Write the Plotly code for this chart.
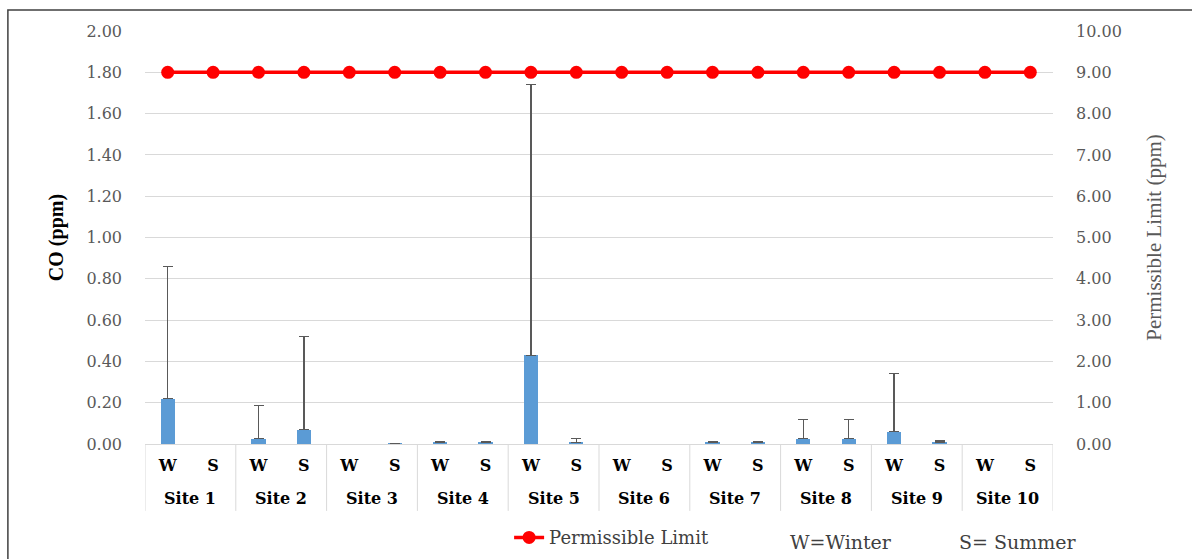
import plotly.graph_objects as go

# Sampling sites and seasons (W = winter, S = summer)
sites = ["Site 1", "Site 2", "Site 3", "Site 4", "Site 5",
         "Site 6", "Site 7", "Site 8", "Site 9", "Site 10"]
seasons = ["W", "S"]

# Mean CO concentration (ppm) for each site/season, winter first
co_mean = [0.22, 0.0, 0.025, 0.07, 0.0, 0.001, 0.006, 0.006, 0.43, 0.006,
           0.0, 0.0, 0.006, 0.006, 0.025, 0.025, 0.06, 0.006, 0.0, 0.0]
# Upper error (ppm) above each mean
co_err = [0.64, 0.0, 0.16, 0.45, 0.0, 0.002, 0.003, 0.003, 1.31, 0.019,
          0.0, 0.0, 0.006, 0.006, 0.092, 0.092, 0.28, 0.009, 0.0, 0.0]

# Permissible limit (ppm) on the secondary axis
limit_ppm = [9.0] * 20

season_labels = [se for _ in sites for se in seasons]
pos = list(range(len(season_labels)))
n_season = len(seasons)

# Zero readings carry no bar and no error whisker
bar_y = [v if (v > 0 or e > 0) else None for v, e in zip(co_mean, co_err)]

serif_wide = "DejaVu Serif"
serif = "Liberation Serif"

fig = go.Figure()

fig.add_trace(go.Bar(
    x=pos,
    y=bar_y,
    width=0.31,
    marker=dict(color="#5B9BD5", line=dict(width=0)),
    error_y=dict(type="data", symmetric=False, array=co_err,
                 arrayminus=[0] * len(co_err), color="#595959",
                 thickness=1.3, width=5),
    showlegend=False,
))

fig.add_trace(go.Scatter(
    x=pos,
    y=limit_ppm,
    yaxis="y2",
    mode="lines+markers",
    name="Permissible Limit",
    line=dict(color="#FF0000", width=3.5),
    marker=dict(color="#FF0000", size=13),
))

# Site names under each pair of season labels, plus group dividers
annotations = []
shapes = []
for i, site in enumerate(sites):
    annotations.append(dict(
        text=site, xref="x", yref="paper",
        x=i * n_season + (n_season - 1) / 2, y=-0.131,
        xanchor="center", yanchor="middle", showarrow=False,
        font=dict(family=serif_wide, size=16, color="#000000", weight="bold"),
    ))
for i in range(len(sites) + 1):
    shapes.append(dict(
        type="line", xref="x", yref="paper",
        x0=i * n_season - 0.5, x1=i * n_season - 0.5, y0=0, y1=-0.162,
        line=dict(color="#D9D9D9", width=1),
    ))

annotations += [
    dict(text="W=Winter", xref="paper", yref="paper",
         x=0.767, y=-0.237, xanchor="center", yanchor="middle",
         showarrow=False,
         font=dict(family=serif_wide, size=19, color="#404040")),
    dict(text="S= Summer", xref="paper", yref="paper",
         x=0.962, y=-0.237, xanchor="center", yanchor="middle",
         showarrow=False,
         font=dict(family=serif_wide, size=19, color="#404040")),
]

# Outer frame around the whole chart
shapes.append(dict(
    type="rect", xref="paper", yref="paper",
    x0=-0.151, y0=-0.3, x1=1.17, y1=1.051,
    line=dict(color="#404040", width=1.5), layer="below",
))

fig.update_layout(
    width=1192, height=559,
    margin=dict(l=145, r=139, t=31, b=115, autoexpand=False),
    paper_bgcolor="white",
    plot_bgcolor="white",
    font=dict(family=serif_wide, color="#595959", size=16),
    xaxis=dict(
        range=[-0.5, len(pos) - 0.5],
        tickmode="array", tickvals=pos, ticktext=season_labels,
        showgrid=False, zeroline=False,
        showline=True, linecolor="#D9D9D9", linewidth=1,
        tickfont=dict(family=serif_wide, size=16, color="#000000",
                      weight="bold"),
        ticks="", ticklabelstandoff=7,
    ),
    yaxis=dict(
        range=[0, 2.0], dtick=0.2, tickformat=".2f",
        showgrid=True, gridcolor="#D9D9D9", gridwidth=1,
        zeroline=False, showline=False,
        tickfont=dict(family=serif_wide, size=16, color="#595959"),
        ticklabelstandoff=22,
        title=dict(text="CO (ppm)", standoff=17,
                   font=dict(family=serif, size=20, color="#000000",
                             weight="bold")),
    ),
    yaxis2=dict(
        overlaying="y", side="right",
        range=[0, 10.0], dtick=1, tickformat=".2f",
        showgrid=False, zeroline=False, showline=False,
        tickfont=dict(family=serif_wide, size=16, color="#595959"),
        ticklabelstandoff=22,
        title=dict(text="Permissible Limit (ppm)", standoff=25,
                   font=dict(family=serif, size=21, color="#595959")),
    ),
    legend=dict(
        orientation="h", x=0.401, y=-0.227, xanchor="left", yanchor="middle",
        font=dict(family=serif_wide, size=18, color="#404040"),
        bgcolor="rgba(0,0,0,0)",
    ),
    annotations=annotations,
    shapes=shapes,
    bargap=0,
)

fig.write_html("out.html")
